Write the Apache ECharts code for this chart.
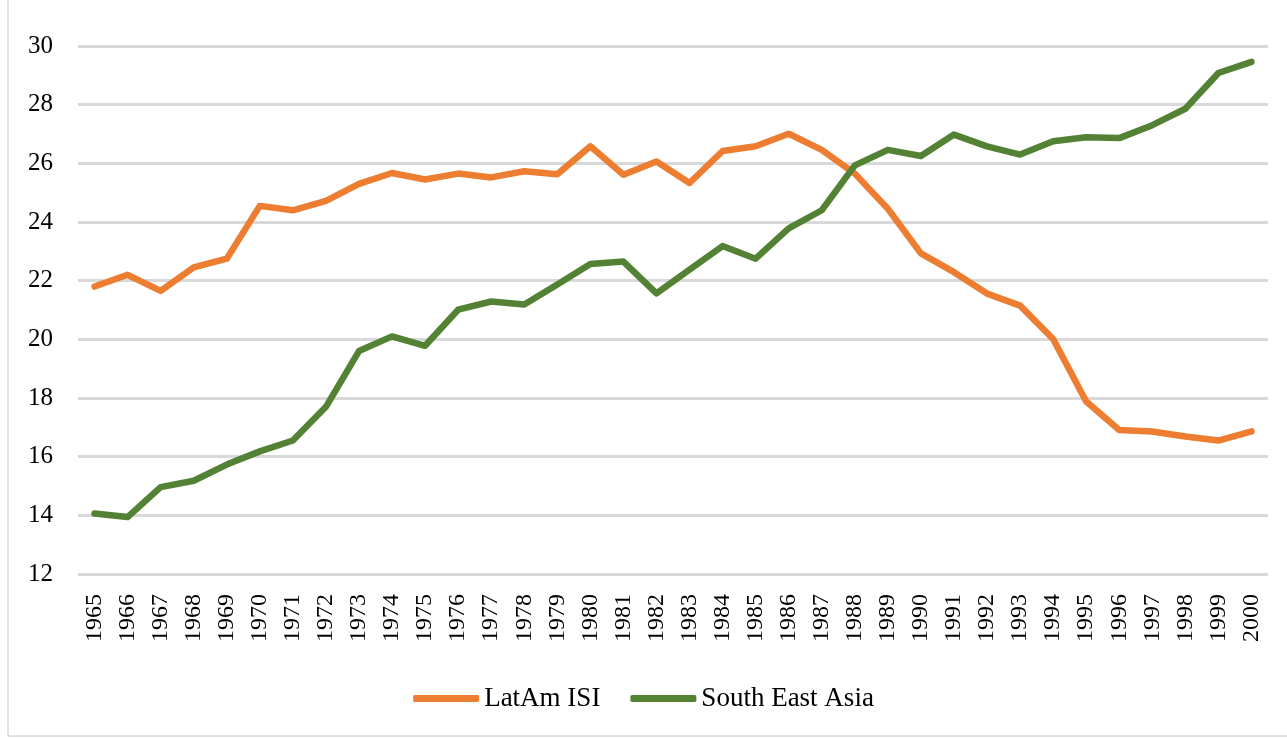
<!DOCTYPE html>
<html>
<head>
<meta charset="utf-8">
<script src="https://cdn.jsdelivr.net/npm/echarts@6/dist/echarts.min.js"></script>
<style>
  html, body { margin: 0; padding: 0; background: #fff; }
  #chart { width: 1287px; height: 739px; }
</style>
</head>
<body>
<div id="chart"></div>
<script>
// years on the category axis
const years = [
  '1965', '1966', '1967', '1968', '1969', '1970', '1971', '1972', '1973', '1974',
  '1975', '1976', '1977', '1978', '1979', '1980', '1981', '1982', '1983', '1984',
  '1985', '1986', '1987', '1988', '1989', '1990', '1991', '1992', '1993', '1994',
  '1995', '1996', '1997', '1998', '1999', '2000'
]

const latAmISI = [
  21.8, 22.2, 21.65, 22.45, 22.75, 24.55, 24.4, 24.72, 25.3, 25.67,
  25.45, 25.65, 25.52, 25.73, 25.63, 26.58, 25.61, 26.06, 25.33, 26.42,
  26.58, 27.01, 26.46, 25.65, 24.45, 22.93, 22.29, 21.56, 21.15, 20.01,
  17.88, 16.91, 16.86, 16.69, 16.55, 16.86
]

const southEastAsia = [
  14.06, 13.94, 14.96, 15.18, 15.73, 16.18, 16.55, 17.7, 19.6, 20.1,
  19.78, 21.01, 21.29, 21.19, 21.87, 22.57, 22.65, 21.57, 22.38, 23.18,
  22.75, 23.78, 24.4, 25.93, 26.46, 26.25, 26.98, 26.58, 26.3, 26.75,
  26.89, 26.86, 27.3, 27.86, 29.08, 29.46
]

const chart = echarts.init(document.getElementById('chart'))
const serif = '"Liberation Serif", "DejaVu Serif", serif'

chart.setOption({
  animation: false,
  backgroundColor: '#fff',
  textStyle: { fontFamily: serif },
  graphic: [{
    type: 'polyline',
    shape: { points: [[8, 0], [8, 736], [1287, 736]] },
    style: { stroke: '#d9d9d9', lineWidth: 1.5, fill: null }
  }],
  grid: {
    left: 78,
    right: 19,
    top: 46,
    bottom: 165
  },
  legend: {
    bottom: 22,
    left: 'center',
    itemGap: 30,
    itemWidth: 66,
    itemHeight: 7,
    icon: 'roundRect',
    textStyle: { fontFamily: serif, fontSize: 27, color: '#000', padding: [0, 0, 0, 0] },
    data: ['LatAm ISI', 'South East Asia']
  },
  xAxis: {
    type: 'category',
    data: years,
    boundaryGap: true,
    axisLine: { show: false },
    axisTick: { show: false },
    axisLabel: {
      rotate: 90,
      interval: 0,
      margin: 20,
      fontFamily: serif,
      fontSize: 24,
      color: '#000'
    }
  },
  yAxis: {
    type: 'value',
    min: 12,
    max: 30,
    interval: 2,
    axisLine: { show: false },
    axisTick: { show: false },
    axisLabel: {
      margin: 25,
      fontFamily: serif,
      fontSize: 25,
      color: '#000'
    },
    splitLine: {
      lineStyle: { color: '#d9d9d9', width: 3 }
    }
  },
  series: [
    {
      name: 'LatAm ISI',
      type: 'line',
      data: latAmISI,
      showSymbol: false,
      lineStyle: { color: '#ED7D31', width: 6.5, cap: 'round', join: 'round' },
      itemStyle: { color: '#ED7D31' }
    },
    {
      name: 'South East Asia',
      type: 'line',
      data: southEastAsia,
      showSymbol: false,
      lineStyle: { color: '#548235', width: 6.5, cap: 'round', join: 'round' },
      itemStyle: { color: '#548235' }
    }
  ]
})
</script>
</body>
</html>
